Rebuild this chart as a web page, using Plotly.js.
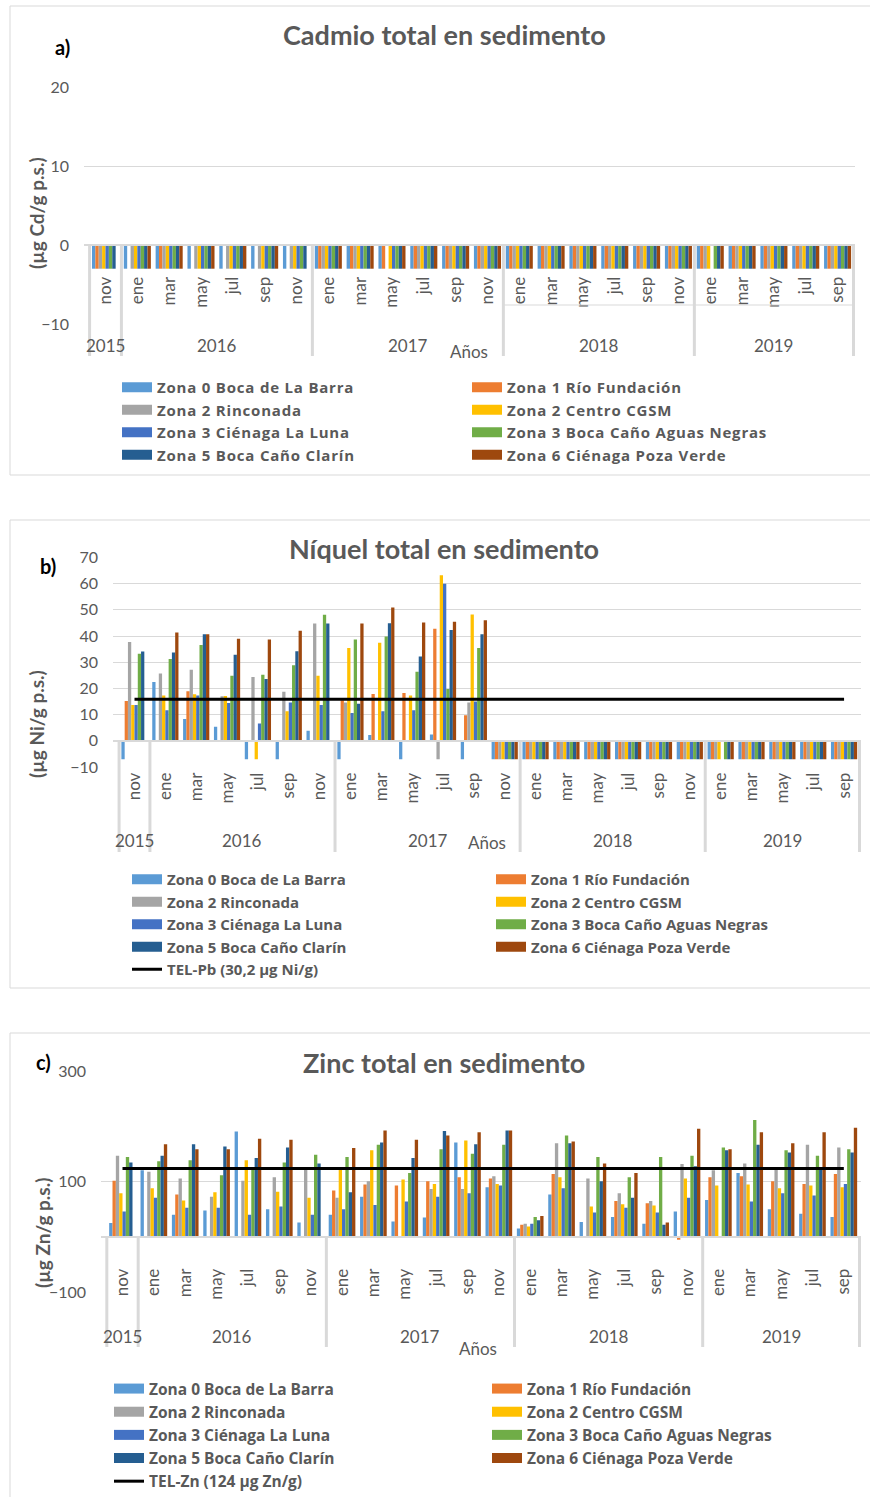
<!DOCTYPE html>
<html>
<head>
<meta charset="utf-8">
<script src="https://cdn.plot.ly/plotly-3.0.1.min.js"></script>
<style>
html,body{margin:0;padding:0;background:#fff;overflow:hidden}
#chart{width:870px;height:1497px}
#chart .legendtext{letter-spacing:0.8px}
</style>
</head>
<body>
<div id="chart"></div>
<script>
// ---------- categories ----------
const years = ['2015','2016','2016','2016','2016','2016','2016','2017','2017','2017','2017','2017','2017',
               '2018','2018','2018','2018','2018','2018','2019','2019','2019','2019','2019'];
const months = ['nov','ene','mar','may','jul','sep','nov','ene','mar','may','jul','sep','nov',
                'ene','mar','may','jul','sep','nov','ene','mar','may','jul','sep'];
const seriesNames = ['Zona 0 Boca de La Barra','Zona 1 Río Fundación','Zona 2 Rinconada','Zona 2 Centro CGSM',
                     'Zona 3 Ciénaga La Luna','Zona 3 Boca Caño Aguas Negras','Zona 5 Boca Caño Clarín','Zona 6 Ciénaga Poza Verde'];
const seriesColors = ['#5B9BD5','#ED7D31','#A5A5A5','#FFC000','#4472C4','#70AD47','#255E91','#9E480E'];

// ---------- a) Cadmio (µg Cd/g) ----------
const cdZona0  = [-3,-3,-3,-3,-3,-3,-3,-3,-3,-3,-3,-3,-3,-3,-3,-3,-3,-3,-3,-3,-3,-3,-3,-3];
const cdZona1  = [-3,null,-3,null,null,null,null,-3,-3,-3,-3,-3,-3,-3,-3,-3,-3,-3,-3,-3,-3,-3,-3,-3];
const cdZona2R = [-3,-3,-3,-3,-3,-3,-3,-3,-3,null,-3,-3,-3,-3,-3,-3,-3,-3,-3,-3,-3,-3,-3,-3];
const cdZona2C = [-3,-3,-3,-3,-3,-3,-3,-3,-3,-3,-3,-3,-3,-3,-3,-3,-3,-3,-3,-3,-3,-3,-3,-3];
const cdZona3L = [-3,-3,-3,-3,-3,-3,-3,-3,-3,-3,-3,-3,-3,-3,-3,-3,-3,-3,-3,null,-3,-3,-3,-3];
const cdZona3B = [-3,-3,-3,-3,-3,-3,-3,-3,-3,-3,-3,-3,-3,-3,-3,-3,-3,-3,-3,-3,-3,-3,-3,-3];
const cdZona5  = [-3,-3,-3,-3,-3,-3,-3,-3,-3,-3,-3,-3,-3,-3,-3,-3,-3,-3,-3,-3,-3,-3,-3,-3];
const cdZona6  = [null,-3,-3,-3,-3,-3,null,-3,-3,-3,-3,-3,-3,-3,-3,-3,-3,-3,-3,-3,-3,-3,-3,-3];

// ---------- b) Níquel (µg Ni/g) ----------
const niZona0  = [-7,22.5,8.3,5.4,-7,-7,3.8,-7,2.2,-7,2.4,-7,-7,-7,-7,-7,-7,-7,-7,-7,-7,-7,-7,-7];
const niZona1  = [15.2,null,18.9,null,null,null,null,15.5,17.9,18.3,42.8,9.8,-7,-7,-7,-7,-7,-7,-7,-7,-7,-7,-7,-7];
const niZona2R = [37.7,25.7,27.1,17.0,24.4,18.7,44.8,14.6,null,null,-7,14.6,-7,-7,-7,-7,-7,-7,-7,-7,-7,-7,-7,-7];
const niZona2C = [13.7,17.3,17.8,17.1,-7,11.3,24.8,35.4,37.4,17.3,63.2,48.2,-7,-7,-7,-7,-7,-7,-7,-7,-7,-7,-7,-7];
const niZona3L = [13.7,11.7,17.3,14.4,6.6,14.6,13.7,10.6,11.3,11.7,60.0,15.0,-7,-7,-7,-7,-7,-7,-7,null,-7,-7,-7,-7];
const niZona3B = [33.2,31.2,36.6,24.8,25.2,28.9,48.1,38.7,39.8,26.4,19.8,35.4,-7,-7,-7,-7,-7,-7,-7,-7,-7,-7,-7,-7];
const niZona5  = [34.1,33.7,40.7,32.9,23.6,34.2,44.8,14.2,44.9,32.2,42.3,40.7,-7,-7,-7,-7,-7,-7,-7,-7,-7,-7,-7,-7];
const niZona6  = [null,41.4,40.7,39.0,38.7,42.0,null,44.8,50.9,45.2,45.5,46.0,-7,-7,-7,-7,-7,-7,-7,-7,-7,-7,-7,-7];
const niTelLevel = 15.9;
const niTelName = 'TEL-Pb (30,2 µg Ni/g)';

// ---------- c) Zinc (µg Zn/g) ----------
const znZona0  = [25,121,40,48,191,50,26,40,73,28,35,171,90,15,77,27,36,24,46,67,116,50,42,36];
const znZona1  = [102,null,77,null,null,null,null,84,95,93,101,108,106,22,114,null,65,61,-5,108,110,101,96,114];
const znZona2R = [147,118,106,73,102,108,122,71,101,null,87,87,110,24,170,106,79,65,132,121,133,123,167,162];
const znZona2C = [79,88,66,81,139,82,71,122,157,104,96,175,96,19,108,55,59,57,106,93,95,88,93,90];
const znZona3L = [46,71,53,53,40,55,40,50,58,64,73,79,93,24,88,44,53,44,71,null,64,79,75,96];
const znZona3B = [145,137,139,112,123,135,149,145,167,116,159,151,167,36,184,145,108,145,147,162,212,157,147,159];
const znZona5  = [135,147,168,164,143,162,133,81,171,143,192,168,193,30,170,101,71,22,128,157,167,153,123,153];
const znZona6  = [null,168,159,159,178,176,null,161,193,176,184,190,193,38,173,133,116,26,196,159,190,170,190,198];
const znTelLevel = 124;
const znTelName = 'TEL-Zn (124 µg Zn/g)';

// ---------- layout helpers ----------
const W = 870, H = 1497;
const px = v => v / W;
const py = v => 1 - v / H;
const GRAY = '#595959';
const GRID = '#d9d9d9';
const FONT = 'Lato, "Open Sans", sans-serif';
const LEGFONT = '"Open Sans", Lato, sans-serif';

// unique category keys (month + year); ticks show the month only
const cats = months.map((m, i) => m + ' ' + years[i]);
// year groups (first / last category index of each year)
const yearGroups = [];
years.forEach((y, i) => {
  const g = yearGroups[yearGroups.length - 1];
  if (g && g.year === y) g.last = i; else yearGroups.push({year:y, first:i, last:i});
});

const panels = [
  {series:[cdZona0,cdZona1,cdZona2R,cdZona2C,cdZona3L,cdZona3B,cdZona5,cdZona6], tel:null,
   xa:'x', ya:'y', legend:'legend', xdom:[84,855], ydom:[324,87], range:[-10,20], dtick:10, tick0:0,
   yearY:345, divEnd:356},
  {series:[niZona0,niZona1,niZona2R,niZona2C,niZona3L,niZona3B,niZona5,niZona6], tel:{level:niTelLevel,name:niTelName},
   xa:'x2', ya:'y2', legend:'legend2', xdom:[113,861], ydom:[767,557.5], range:[-10,70], dtick:10, tick0:0,
   yearY:840, divEnd:852},
  {series:[znZona0,znZona1,znZona2R,znZona2C,znZona3L,znZona3B,znZona5,znZona6], tel:{level:znTelLevel,name:znTelName},
   xa:'x3', ya:'y3', legend:'legend3', xdom:[101,861], ydom:[1292,1071.5], range:[-100,300], dtick:200, tick0:100,
   yearY:1336, divEnd:1347}
];

const traces = [];
const layout = {
  width: W, height: H,
  margin: {l:0, r:0, t:0, b:0, pad:0, autoexpand:false},
  paper_bgcolor: '#fff', plot_bgcolor: 'rgba(0,0,0,0)',
  barmode: 'group', bargap: 0.15, bargroupgap: 0,
  font: {family: FONT, color: GRAY},
  annotations: [], shapes: []
};

panels.forEach((p, pi) => {
  p.series.forEach((vals, si) => {
    traces.push({type:'bar', x:cats, y:vals, name:seriesNames[si],
      marker:{color:seriesColors[si], line:{width:0}}, xaxis:p.xa, yaxis:p.ya, showlegend:false});
  });
  if (p.tel) {
    traces.push({type:'scatter', mode:'lines', x:cats, y:cats.map(() => p.tel.level),
      name:p.tel.name, line:{color:'#000', width:3}, xaxis:p.xa, yaxis:p.ya, showlegend:false});
  }
  // legend entries with wide rectangular swatches
  seriesNames.forEach((nm, si) => {
    traces.push({type:'scatter', mode:'lines', x:[cats[0]], y:[null], name:nm, legend:p.legend, showlegend:true,
      line:{color:seriesColors[si], width:10}, xaxis:p.xa, yaxis:p.ya, hoverinfo:'skip'});
  });
  if (p.tel) {
    traces.push({type:'scatter', mode:'lines', x:[cats[0]], y:[null], name:p.tel.name, legend:p.legend, showlegend:true,
      line:{color:'#000', width:3}, xaxis:p.xa, yaxis:p.ya, hoverinfo:'skip'});
  }
  const sfx = pi === 0 ? '' : String(pi + 1);
  const yd = [py(p.ydom[0]), py(p.ydom[1])];
  const zeroPos = yd[0] + (0 - p.range[0]) / (p.range[1] - p.range[0]) * (yd[1] - yd[0]);
  layout['xaxis' + sfx] = {
    type:'category', domain:[px(p.xdom[0]), px(p.xdom[1])], anchor:'free', position:zeroPos,
    categoryorder:'array', categoryarray:cats,
    tickmode:'array', tickvals:cats, ticktext:months,
    showline:true, linecolor:GRID, linewidth:2,
    tickangle:-90, tickfont:{size:17, color:GRAY, family:FONT}, ticks:'', ticklabelstandoff:24,
    showgrid:false, zeroline:false, fixedrange:true, automargin:false
  };
  layout['yaxis' + sfx] = {
    domain: yd, range:p.range, dtick:p.dtick, tick0:p.tick0, anchor:p.xa,
    showgrid:true, gridcolor:GRID, gridwidth:1, zeroline:false, showline:false,
    ticks:'', ticklabelstandoff:14, tickfont:{size:16, color:GRAY, family:FONT}, fixedrange:true, automargin:false
  };
  // year labels and year dividers below the category axis
  yearGroups.forEach((g, gi) => {
    layout.annotations.push({text:g.year, xref:p.xa, yref:'paper', x:(g.first + g.last) / 2, y:py(p.yearY),
      xanchor:'center', yanchor:'middle', showarrow:false, font:{family:FONT, size:17, color:GRAY}});
    const bounds = [g.first - 0.5];
    if (gi === yearGroups.length - 1) bounds.push(g.last + 0.5);
    bounds.forEach(bx => layout.shapes.push({type:'line', xref:p.xa, yref:'paper', x0:bx, x1:bx,
      y0:zeroPos, y1:py(p.divEnd), line:{color:GRID, width:3}}));
  });
});

// thin separator seen under the month labels of 2018-2019 in panel a
layout.shapes.push({type:'line', xref:'x', yref:'paper', x0:yearGroups[3].first - 0.5, x1:yearGroups[4].last + 0.5,
  y0:py(305), y1:py(305), line:{color:GRID, width:1}});

// legends
const legBase = {orientation:'h', xanchor:'left', yanchor:'top', bgcolor:'rgba(0,0,0,0)',
  font:{family:LEGFONT, size:15, color:GRAY, weight:'bold'}, entrywidthmode:'pixels', itemclick:false};
layout.legend  = Object.assign({}, legBase, {x:px(117), y:py(371), entrywidth:305});
layout.legend2 = Object.assign({}, legBase, {x:px(127), y:py(863), entrywidth:319});
layout.legend3 = Object.assign({}, legBase, {x:px(109), y:py(1372), entrywidth:333,
  font:{family:LEGFONT, size:15.5, color:GRAY, weight:'bold'}});

// borders of the three chart areas
[[10,6,475],[10,520,988],[10,1033,1510]].forEach(b => {
  layout.shapes.push({type:'rect', xref:'paper', yref:'paper', x0:px(b[0]), x1:1.02, y0:py(b[2]), y1:py(b[1]),
    line:{color:GRID, width:1}, fillcolor:'rgba(0,0,0,0)'});
});

function ann(text, x, y, opts) {
  layout.annotations.push(Object.assign({text:text, xref:'paper', yref:'paper', x:px(x), y:py(y),
    xanchor:'center', yanchor:'middle', showarrow:false, font:{family:FONT, size:17, color:GRAY}}, opts || {}));
}
const titleFont = {family:FONT, size:27, color:GRAY, weight:'bold'};
const tagFont = {family:FONT, size:20, color:'#000', weight:'bold'};
const ytFont = {family:FONT, size:19, color:GRAY, weight:'bold'};
ann('Cadmio total en sedimento', 444, 35, {font:titleFont});
ann('Níquel total en sedimento', 444, 548, {font:titleFont});
ann('Zinc total en sedimento', 444, 1062, {font:titleFont});
ann('a)', 62, 47, {font:tagFont});
ann('b)', 48, 566, {font:tagFont});
ann('c)', 43, 1062, {font:tagFont});
ann('(µg Cd/g p.s.)', 36, 213, {font:ytFont, textangle:-90});
ann('(µg Ni/g p.s.)', 36, 724, {font:ytFont, textangle:-90});
ann('(µg Zn/g p.s.)', 42, 1233, {font:ytFont, textangle:-90});
ann('Años', 469, 352);
ann('Años', 487, 842);
ann('Años', 478, 1348);

Plotly.newPlot('chart', traces, layout, {displayModeBar:false, staticPlot:true});
</script>
</body>
</html>
